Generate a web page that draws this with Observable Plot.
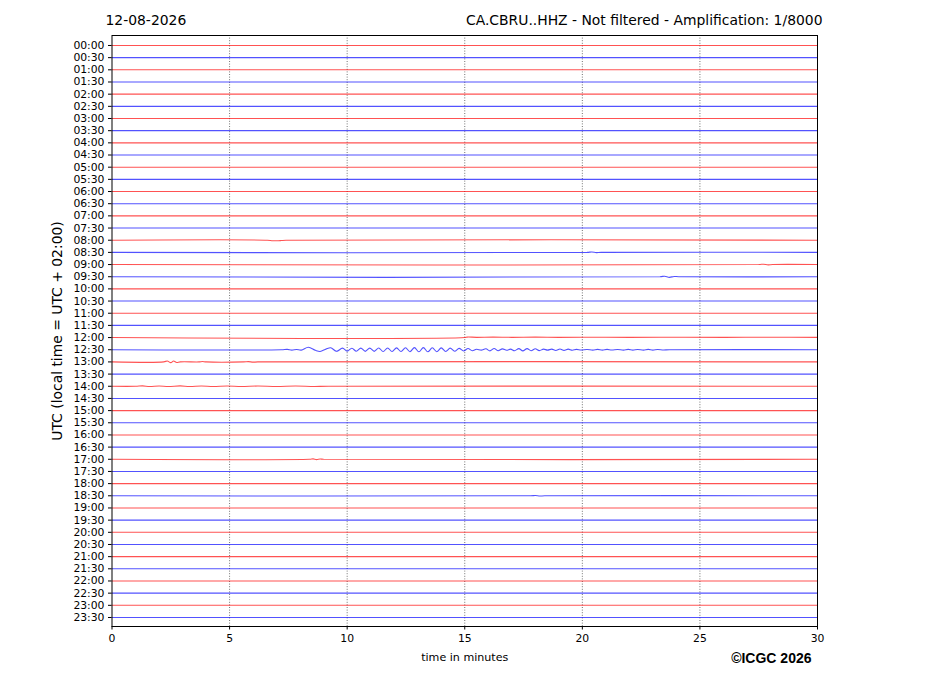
<!DOCTYPE html>
<html>
<head>
<meta charset="utf-8">
<script src="https://cdn.jsdelivr.net/npm/d3@7"></script>
<script src="https://cdn.jsdelivr.net/npm/@observablehq/plot@0.6"></script>
<style>
  html, body { margin: 0; padding: 0; background: #fff; }
  #chart { width: 927px; height: 696px; }
</style>
</head>
<body>
<div id="chart"></div>
<script>
// ---- Data ----
const dateLabel = "12-08-2026";
const stationTitle = "CA.CBRU..HHZ - Not filtered - Amplification: 1/8000";
const yAxisLabel = "UTC (local time = UTC + 02:00)";
const xAxisLabel = "time in minutes";
const credit = "©ICGC 2026";

const rowLabels = [
  "00:00","00:30","01:00","01:30","02:00","02:30","03:00","03:30",
  "04:00","04:30","05:00","05:30","06:00","06:30","07:00","07:30",
  "08:00","08:30","09:00","09:30","10:00","10:30","11:00","11:30",
  "12:00","12:30","13:00","13:30","14:00","14:30","15:00","15:30",
  "16:00","16:30","17:00","17:30","18:00","18:30","19:00","19:30",
  "20:00","20:30","21:00","21:30","22:00","22:30","23:00","23:30"
];
const traceColors = ["red", "blue"];
const xTicks = [0, 5, 10, 15, 20, 25, 30];
const gridMinutes = [5, 10, 15, 20, 25];

// Trace displacements [minute, offset in trace units]
const flatTrace = [[0, 0], [30, 0]];

const trace0800 = [[0,0],[6.6,0],[6.8,-0.04],[7.0,-0.05],[7.2,-0.03],[7.4,0],[30,0]];
const trace0830 = [[0,0],[20.2,0],[20.4,0.03],[20.6,-0.02],[20.8,0],[30,0]];
const trace0900 = [[0,0],[27.5,0],[27.7,0.03],[27.9,-0.03],[28.1,0],[30,0]];
const trace0930 = [[0,0],[23.3,0],[23.5,0.04],[23.7,-0.05],[23.9,0.02],[24.1,0],[30,0]];
const trace1200 = [[0,0],[15.0,0],[15.1,0.04],[15.5,0.02],[16.2,0.04],[17.0,0.02],[18.0,0.04],[19.0,0.02],[20.5,0.03],[22,0.02],[24,0.03],[26,0.02],[28,0.03],[30,0.02]];
const trace1230 = [
  [0,0],[7.2,0],[7.45,0.03],[7.65,-0.03],[7.85,0.02],[8.05,-0.03],[8.35,0.2],
  [8.65,-0.05],[8.85,-0.14],[9.1,0.05],[9.3,0.16],[9.55,-0.13],[9.8,0.13],[10.0,-0.11],
  [10.2,0.12],[10.39,-0.12],[10.58,0.13],[10.77,-0.13],[10.96,0.13],[11.15,-0.13],
  [11.34,0.14],[11.53,-0.14],[11.72,0.14],[11.91,-0.14],[12.1,0.15],[12.29,-0.15],
  [12.48,0.16],[12.67,-0.16],[12.86,0.17],[13.05,-0.17],[13.24,0.17],[13.43,-0.17],
  [13.62,0.16],[13.81,-0.16],[14.0,0.15],[14.19,-0.14],[14.38,0.13],[14.57,-0.12],
  [14.76,0.11],[14.95,-0.1],[15.14,0.1],[15.32,-0.08],[15.5,0.04],[15.7,-0.03],
  [15.9,0.08],[16.07,-0.09],[16.25,0.1],[16.42,-0.08],[16.6,0.07],[16.78,-0.04],
  [16.95,0.05],[17.12,-0.08],[17.3,0.09],[17.47,-0.09],[17.65,0.09],[17.82,-0.08],
  [18.0,0.08],[18.17,-0.07],[18.35,0.05],[18.52,-0.03],[18.7,0.05],[18.87,-0.06],
  [19.05,0.06],[19.22,-0.05],[19.4,0.05],[19.57,-0.04],[19.75,0.03],[19.95,-0.02],
  [20.2,0.02],[20.45,-0.03],[20.65,0.03],[20.85,-0.03],[21.05,0.03],[21.25,-0.02],
  [21.5,0.02],[21.75,-0.03],[21.95,0.03],[22.15,-0.03],[22.35,0.02],[22.6,-0.03],
  [22.8,0.03],[23.0,-0.03],[23.2,0.02],[23.45,-0.02],[23.7,0],[30,0]
];
const trace1300 = [[0,0],[2.2,0],[2.35,0.07],[2.5,-0.06],[2.62,0.07],[2.75,-0.05],[2.9,0],[3.7,0],[3.85,0.03],[4.0,0],[5.6,0],[5.8,0.02],[6.0,-0.02],[6.2,0],[30,0]];
const trace1400 = [[0,0],[1.0,0],[1.3,0.03],[1.6,-0.02],[2.0,0.02],[2.4,-0.02],[2.9,0.03],[3.3,-0.02],[3.8,0.02],[4.3,-0.02],[4.9,0.02],[5.5,-0.02],[6.2,0.02],[7.0,-0.02],[7.8,0.02],[8.6,-0.02],[9.2,0],[30,0]];
const trace1700 = [[0,0],[8.4,0],[8.55,0.03],[8.7,-0.03],[8.85,0.02],[9.0,0],[30,0]];
const trace1830 = [[0,0],[17.8,0],[18.0,0.02],[18.2,-0.02],[18.4,0],[30,0]];

const rowEvents = new Map([
  [16, trace0800], [17, trace0830], [18, trace0900], [19, trace0930],
  [24, trace1200], [25, trace1230], [26, trace1300], [28, trace1400],
  [34, trace1700], [37, trace1830]
]);

// ---- Build table ----
const points = [];
rowLabels.forEach((lab, i) => {
  const tr = rowEvents.get(i) || flatTrace;
  tr.forEach(([t, v]) => points.push({row: i, t, v, color: traceColors[i % 2]}));
});
const rowIdx = rowLabels.map((_, i) => i);

const font = "DejaVu Sans, sans-serif";

const chart = Plot.plot({
  width: 927,
  height: 696,
  marginLeft: 111.5,
  marginRight: 110,
  marginTop: 35,
  marginBottom: 70,
  style: {fontFamily: font, fontSize: "10.8px", color: "black", background: "white"},
  x: {domain: [0, 30]},
  y: {domain: [-0.82, 47.74], reverse: true},
  marks: [
    Plot.ruleX(gridMinutes, {stroke: "black", strokeWidth: 0.8, strokeDasharray: "1,1.6", strokeOpacity: 0.7}),
    Plot.line(points.filter(d => d.color === "red"), {
      x: "t", y: d => d.row - d.v, z: "row", stroke: "#ff0000",
      strokeWidth: 1.1, strokeOpacity: 0.68, curve: "catmull-rom"
    }),
    Plot.line(points.filter(d => d.color === "blue"), {
      x: "t", y: d => d.row - d.v, z: "row", stroke: "#0000ff",
      strokeWidth: 1.1, strokeOpacity: 0.68, curve: "catmull-rom"
    }),
    Plot.frame({stroke: "black", strokeWidth: 1}),
    Plot.axisY(rowIdx, {
      tickFormat: i => rowLabels[i], tickSize: 3.5, tickPadding: 4,
      fontSize: 10.8, label: null, anchor: "left"
    }),
    Plot.axisX(xTicks, {tickSize: 3.5, tickPadding: 4, fontSize: 10.8, label: null, anchor: "bottom"}),
    Plot.text([dateLabel], {frameAnchor: "top-left", dx: -6.5, dy: -15, textAnchor: "start", lineAnchor: "middle", fontSize: 13.9}),
    Plot.text([stationTitle], {frameAnchor: "top-right", dx: 5, dy: -15, textAnchor: "end", lineAnchor: "middle", fontSize: 13.9}),
    Plot.text([yAxisLabel], {frameAnchor: "left", dx: -54, rotate: -90, textAnchor: "middle", lineAnchor: "middle", fontSize: 13.9}),
    Plot.text([xAxisLabel], {frameAnchor: "bottom", dy: 31, textAnchor: "middle", lineAnchor: "middle", fontSize: 11.1}),
    Plot.text([credit], {frameAnchor: "bottom-right", dx: -6, dy: 32, textAnchor: "end", lineAnchor: "middle", fontSize: 14, fontWeight: "bold", fontFamily: "Liberation Sans, Arial, sans-serif"})
  ]
});
document.getElementById("chart").appendChild(chart);
</script>
</body>
</html>
